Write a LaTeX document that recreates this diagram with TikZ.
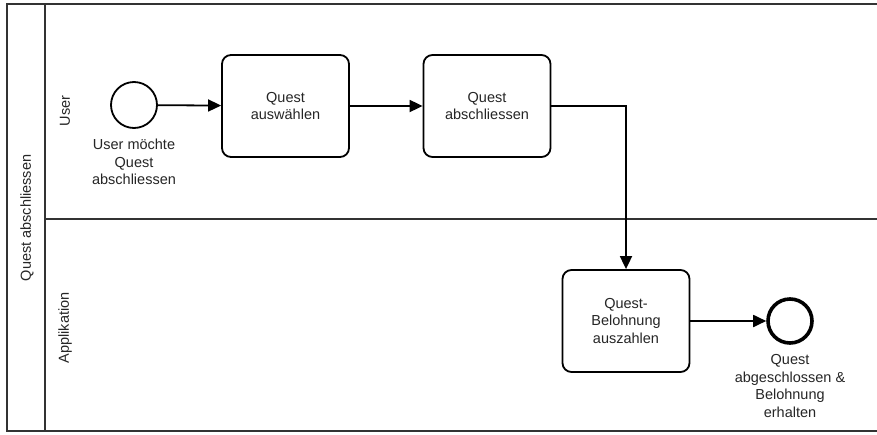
\documentclass[tikz,border=0pt]{standalone}
\usepackage{fontspec}
\setmainfont{Liberation Sans}
\usetikzlibrary{arrows.meta}
\begin{document}
\begin{tikzpicture}[x=1pt,y=-1pt,
  every node/.style={font=\fontsize{14.5}{17.5}\selectfont, text=black!85},
  frame/.style={draw=black!80, line width=1.8pt},
  task/.style={draw=black, line width=1.8pt, rounded corners=9pt, minimum width=127pt, minimum height=102pt, align=center, inner sep=0pt},
  startev/.style={circle, draw=black, line width=1.8pt, minimum size=46pt, inner sep=0pt},
  endev/.style={circle, draw=black, line width=3.6pt, minimum size=44pt, inner sep=0pt},
  lbl/.style={align=center, inner sep=0pt},
  flow/.style={draw=black, line width=1.8pt, -{Triangle[length=13pt,width=12pt]}}
]
\useasboundingbox (0,0) rectangle (877,434);
\fill[white] (0,0) rectangle (877,434);

% pool and lanes
\draw[frame] (880,4) -- (7,4) -- (7,431) -- (880,431);
\draw[frame] (45,4) -- (45,431);
\draw[frame] (45,219) -- (880,219);

\node[rotate=90] (pool) at (27,218) {Quest abschliessen};
\node[rotate=90] (laneU) at (65,111) {User};
\node[rotate=90] (laneA) at (65,328) {Applikation};

% flow elements
\node[startev] (start) at (134,105) {};
\node[lbl] (startl) at (134,162) {User möchte\\Quest\\abschliessen};
\node[task] (t1) at (285.5,106) {Quest\\auswählen};
\node[task] (t2) at (487,106) {Quest\\abschliessen};
\node[task] (t3) at (626,321) {Quest-\\Belohnung\\auszahlen};
\node[endev] (end) at (790,321) {};
\node[lbl] (endl) at (790,386) {Quest\\abgeschlossen \&\\Belohnung\\erhalten};

% sequence flows
\draw[flow] (start) -- (t1);
\draw[flow] (t1) -- (t2);
\draw[flow] (t2.east) -| (t3.north);
\draw[flow] (t3) -- (end);
\end{tikzpicture}
\end{document}
